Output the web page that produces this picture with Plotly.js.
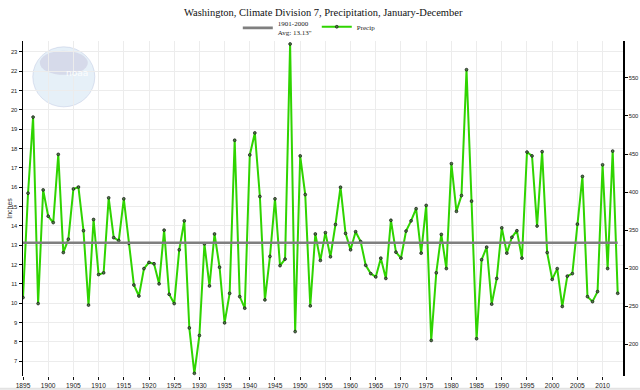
<!DOCTYPE html>
<html>
<head>
<meta charset="utf-8">
<script src="https://cdn.plot.ly/plotly-3.0.1.min.js"></script>
<style>html,body{margin:0;padding:0;background:#fff;}#chart{width:640px;height:390px;}</style>
</head>
<body>
<div id="chart"></div>
<script>
// ---- data ----
const startYear = 1895;
const precipInches = [
  10.29, 15.69, 19.63, 9.98, 15.86, 14.50, 14.17, 17.70, 12.62, 13.31,
  15.91, 16.01, 13.75, 9.90, 14.33, 11.48, 11.57, 15.45, 13.39, 13.24,
  15.40, 13.10, 10.94, 10.37, 11.79, 12.11, 12.04, 11.00, 13.78, 10.46,
  9.98, 12.76, 14.26, 8.72, 6.37, 8.33, 13.07, 10.89, 13.58, 11.86,
  8.98, 10.51, 18.43, 10.34, 9.74, 17.67, 18.81, 15.52, 10.17, 12.42,
  15.40, 11.94, 12.28, 23.41, 8.53, 17.62, 15.62, 9.86, 13.58, 12.21,
  13.65, 12.40, 14.07, 16.00, 13.61, 12.76, 13.70, 13.19, 11.96, 11.53,
  11.36, 12.33, 11.28, 14.29, 12.64, 12.33, 13.73, 14.26, 14.89, 12.59,
  15.06, 8.07, 11.57, 13.56, 11.79, 17.22, 14.75, 15.57, 22.08, 15.28,
  8.16, 12.25, 12.90, 9.95, 11.28, 13.90, 12.59, 13.41, 13.75, 12.33,
  17.82, 17.62, 13.99, 17.84, 12.62, 11.23, 11.79, 9.83, 11.40, 11.53,
  14.09, 16.56, 10.34, 10.08, 10.60, 17.16, 11.79, 17.87, 10.51
];
const years = precipInches.map((_, i) => startYear + i);
const avgInches = 13.13;
const avgLabel = '1901-2000<br>Avg: 13.13"';
const precipLabel = 'Precip';
const chartTitle = 'Washington, Climate Division 7, Precipitation, January-December';
const yTitle = 'Inches';
const leftTicks = [7,8,9,10,11,12,13,14,15,16,17,18,19,20,21,22,23];
const rightTicks = [200,250,300,350,400,450,500,550];
const xTicks = [1895,1900,1905,1910,1915,1920,1925,1930,1935,1940,1945,1950,1955,1960,1965,1970,1975,1980,1985,1990,1995,2000,2005,2010];

// ---- layout constants ----
const yRange = [6.233, 23.565];
const mmPerInch = 25.4;
const xRange = [1895, 2014.05];

const traces = [
  {
    x: years, y: precipInches, type: 'scatter', mode: 'lines+markers', name: precipLabel,
    line: {color: '#2fd400', width: 2.0},
    marker: {size: 2.8, color: '#4f7f45', line: {color: '#111', width: 0.7}},
    legendrank: 2, hoverinfo: 'x+y'
  },
  {
    x: [years[0], years[years.length - 1]], y: [avgInches, avgInches], type: 'scatter', mode: 'lines',
    name: avgLabel, line: {color: '#7f7f7f', width: 2.6}, legendrank: 1
  },
  {
    x: [null], y: [null], yaxis: 'y2', type: 'scatter', mode: 'lines', showlegend: false, hoverinfo: 'skip'
  }
];

const tickFont = {family: 'Liberation Sans, Arial, sans-serif', size: 5.8, color: '#222'};

const layout = {
  width: 640, height: 390,
  margin: {l: 23, r: 17, t: 37, b: 14, pad: 0},
  paper_bgcolor: '#ffffff', plot_bgcolor: '#ffffff',
  title: {text: chartTitle, x: 0.505, xanchor: 'center', y: 0.968, yanchor: 'middle',
          font: {family: 'Liberation Serif, Times New Roman, serif', size: 10.5, color: '#111'}},
  showlegend: true,
  legend: {orientation: 'h', x: 0.358, xanchor: 'left', y: 1.038, yanchor: 'middle',
           bgcolor: 'rgba(0,0,0,0)', font: {family: 'Liberation Serif, serif', size: 7, color: '#222'},
           traceorder: 'normal'},
  xaxis: {
    range: xRange, tickvals: xTicks, ticktext: xTicks.map(String),
    showgrid: true, gridcolor: '#ececec', gridwidth: 1, zeroline: false,
    showline: false, ticks: 'outside', ticklen: 3, tickcolor: '#111', tickwidth: 1,
    tickfont: {family: 'Liberation Sans, Arial, sans-serif', size: 6.6, color: '#222'}
  },
  yaxis: {
    range: yRange, tickvals: leftTicks, ticktext: leftTicks.map(String),
    showgrid: true, gridcolor: '#ececec', gridwidth: 1, zeroline: false,
    showline: true, linecolor: '#000', linewidth: 1.5,
    ticks: 'outside', ticklen: 3, tickcolor: '#000', tickwidth: 1,
    tickfont: tickFont
  },
  yaxis2: {
    overlaying: 'y', side: 'right',
    range: [yRange[0] * mmPerInch, yRange[1] * mmPerInch], tickvals: rightTicks, ticktext: rightTicks.map(String),
    showgrid: false, zeroline: false, showline: true, linecolor: '#000', linewidth: 1.5,
    ticks: 'outside', ticklen: 3, tickcolor: '#000', tickwidth: 1,
    tickfont: tickFont
  },
  annotations: [
    {text: yTitle, xref: 'paper', yref: 'paper', x: -0.032, y: 0.5, textangle: -90, showarrow: false,
     font: {family: 'Liberation Sans, Arial, sans-serif', size: 7, color: '#333'}},
    {text: 'noaa', xref: 'paper', yref: 'paper', x: 0.068, y: 0.925, showarrow: false,
     font: {family: 'DejaVu Sans, sans-serif', size: 9, color: 'rgba(255,255,255,0.9)'}}
  ],
  shapes: [
    {type: 'circle', xref: 'paper', yref: 'paper', xsizemode: 'pixel', ysizemode: 'pixel',
     xanchor: 0.068, yanchor: 0.893, x0: -31, x1: 31, y0: -30, y1: 30,
     fillcolor: 'rgba(205,225,242,0.5)', line: {color: 'rgba(190,200,225,0.5)', width: 1}, layer: 'below'},
    {type: 'circle', xref: 'paper', yref: 'paper', xsizemode: 'pixel', ysizemode: 'pixel',
     xanchor: 0.068, yanchor: 0.893, x0: -24, x1: 24, y0: 2, y1: 26,
     fillcolor: 'rgba(200,200,222,0.55)', line: {width: 0}, layer: 'below'},
    {type: 'rect', xref: 'paper', yref: 'paper', x0: -0.04, x1: 1.03, y0: -0.0413, y1: -0.0354,
     fillcolor: '#e3e3e3', line: {width: 0}, layer: 'below'}
  ]
};

Plotly.newPlot('chart', traces, layout, {displayModeBar: false, staticPlot: true});
</script>
</body>
</html>
